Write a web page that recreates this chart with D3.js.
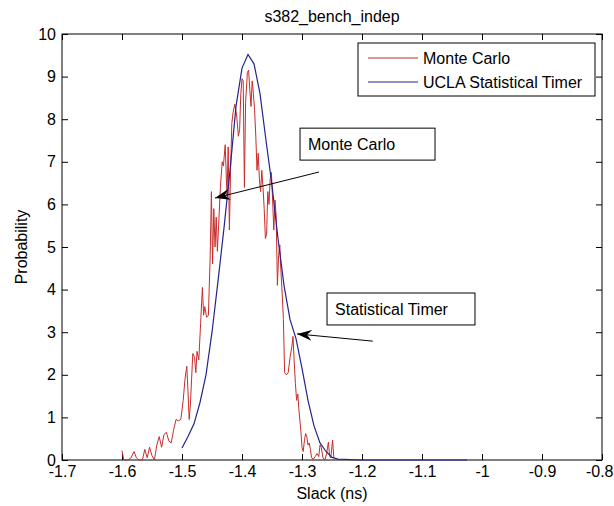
<!DOCTYPE html>
<html>
<head>
<meta charset="utf-8">
<script src="https://cdn.jsdelivr.net/npm/d3@7/dist/d3.min.js"></script>
<style>
  body { margin: 0; background: #fff; }
  text { font-family: "Liberation Sans", Arial, sans-serif; fill: #000; }
</style>
</head>
<body>
<div id="chart"></div>
<script>
const title = 's382_bench_indep'
const xLabel = 'Slack (ns)'
const yLabel = 'Probability'
const xTicks = [-1.7, -1.6, -1.5, -1.4, -1.3, -1.2, -1.1, -1, -0.9, -0.8]
const yTicks = [0, 1, 2, 3, 4, 5, 6, 7, 8, 9, 10]
const seriesNames = ['Monte Carlo', 'UCLA Statistical Timer']

// monte carlo histogram
const mcX = [-1.600, -1.597, -1.590, -1.585, -1.580, -1.576, -1.572, -1.566, -1.562, -1.558,
  -1.554, -1.550, -1.546, -1.542, -1.538, -1.534, -1.530, -1.526, -1.522, -1.518,
  -1.514, -1.510, -1.506, -1.502, -1.498, -1.495, -1.492, -1.490, -1.488, -1.486,
  -1.484, -1.482, -1.479, -1.477, -1.475, -1.472, -1.469, -1.466, -1.464, -1.462,
  -1.459, -1.456, -1.453, -1.451, -1.449, -1.447, -1.445, -1.443, -1.441, -1.439,
  -1.436, -1.433, -1.431, -1.428, -1.425, -1.423, -1.421, -1.419, -1.417, -1.415,
  -1.412, -1.409, -1.406, -1.404, -1.402, -1.400, -1.398, -1.396, -1.394, -1.391,
  -1.389, -1.387, -1.385, -1.383, -1.381, -1.379, -1.377, -1.375, -1.373, -1.371,
  -1.369, -1.367, -1.365, -1.363, -1.361, -1.359, -1.357, -1.355, -1.353, -1.351,
  -1.349, -1.347, -1.345, -1.343, -1.341, -1.339, -1.337, -1.335, -1.333, -1.331,
  -1.329, -1.326, -1.323, -1.320, -1.317, -1.315, -1.313, -1.311, -1.309, -1.307,
  -1.305, -1.302, -1.300, -1.298, -1.296, -1.294, -1.292, -1.290, -1.288, -1.286,
  -1.284, -1.281, -1.278, -1.275, -1.272, -1.270, -1.268, -1.265, -1.262, -1.259,
  -1.256, -1.254, -1.252, -1.249, -1.247]
const mcY = [0.22, 0.00, 0.00, 0.05, 0.20, 0.05, 0.00, 0.00, 0.25, 0.05,
  0.30, 0.10, 0.00, 0.35, 0.55, 0.30, 0.60, 0.65, 0.45, 0.40,
  0.70, 0.95, 0.92, 0.95, 1.40, 1.90, 2.20, 1.60, 0.95, 1.30,
  1.90, 2.50, 2.40, 2.05, 2.55, 2.35, 3.20, 4.05, 3.40, 3.60,
  3.35, 3.40, 4.80, 6.30, 4.60, 5.90, 5.00, 5.70, 4.90, 5.50,
  6.40, 7.00, 6.90, 7.40, 6.20, 7.35, 5.40, 6.80, 7.90, 8.15,
  8.35, 8.10, 7.60, 7.75, 8.60, 8.95, 8.90, 6.40, 8.40, 9.10,
  9.15, 8.70, 8.30, 8.90, 8.60, 8.20, 7.60, 6.80, 7.20, 6.60,
  6.30, 6.80, 6.40, 5.90, 5.20, 5.30, 6.30, 6.00, 6.60, 6.75,
  6.10, 5.40, 6.10, 5.70, 4.10, 4.80, 5.05, 4.40, 3.90, 3.30,
  2.05, 2.00, 2.05, 2.40, 2.65, 2.90, 2.30, 1.80, 1.40, 1.55,
  1.15, 0.70, 0.30, 0.20, 0.45, 0.62, 0.55, 0.35, 0.40, 0.25,
  0.05, 0.02, 0.08, 0.15, 0.08, 0.35, 0.30, 0.05, 0.00, 0.15,
  0.42, 0.10, 0.05, 0.47, 0.05]

// statistical timer curve
const stX = [-1.50, -1.49, -1.48, -1.47, -1.46, -1.45, -1.44, -1.43, -1.42, -1.41,
  -1.40, -1.39, -1.38, -1.37, -1.36, -1.35, -1.34, -1.33, -1.32, -1.31,
  -1.30, -1.29, -1.28, -1.27, -1.26, -1.25, -1.24, -1.20, -1.10, -1.025]
const stY = [0.28, 0.55, 0.85, 1.35, 2.00, 3.00, 4.20, 5.45, 6.80, 8.30,
  9.20, 9.52, 9.30, 8.60, 7.50, 6.45, 5.20, 4.10, 3.30, 2.85,
  2.15, 1.40, 0.80, 0.40, 0.20, 0.06, 0.02, 0, 0, 0]

// text arrows: label box corners, arrow tail, arrow tip (data units)
const notes = [
  { text: 'Monte Carlo', box: [-1.3033, 7.79, -1.0783, 7.04], from: [-1.2717, 6.76], to: [-1.445, 6.15] },
  { text: 'Statistical Timer', box: [-1.2583, 3.92, -1.0117, 3.17], from: [-1.182, 2.79], to: [-1.3083, 2.96] }
]

const colors = ['#c82c2c', '#24248c']

const width = 614, height = 506
const margin = { top: 34, right: 12, bottom: 46, left: 62 }

const svg = d3.select('#chart')
  .append('svg')
  .attr('width', width)
  .attr('height', height)

svg.append('rect').attr('width', width).attr('height', height).attr('fill', '#fff')

const x = d3.scaleLinear().domain([-1.7, -0.8]).range([margin.left, width - margin.right])
const y = d3.scaleLinear().domain([0, 10]).range([height - margin.bottom, margin.top])

const fmt = d => String(+d.toFixed(1))

svg.append('rect')
  .attr('x', x(-1.7)).attr('y', y(10))
  .attr('width', x(-0.8) - x(-1.7)).attr('height', y(0) - y(10))
  .attr('fill', 'none').attr('stroke', '#000')

const styleAxis = g => {
  g.select('.domain').remove()
  g.selectAll('line').attr('stroke', '#000')
  g.selectAll('text').style('font-size', '16px').attr('fill', '#000')
}

const xAxis = svg.append('g')
  .attr('transform', 'translate(0,' + y(0) + ')')
  .call(d3.axisBottom(x).tickValues(xTicks).tickFormat(fmt).tickSizeInner(-6).tickSizeOuter(0).tickPadding(6))
  .call(styleAxis)

// last label sits against the right edge
xAxis.selectAll('.tick text')
  .filter(d => d === xTicks[xTicks.length - 1])
  .attr('text-anchor', 'end')
  .attr('x', 11)

svg.append('g')
  .attr('transform', 'translate(0,' + y(10) + ')')
  .call(d3.axisTop(x).tickValues(xTicks).tickFormat('').tickSizeInner(-6).tickSizeOuter(0))
  .call(styleAxis)

svg.append('g')
  .attr('transform', 'translate(' + x(-1.7) + ',0)')
  .call(d3.axisLeft(y).tickValues(yTicks).tickFormat(fmt).tickSizeInner(-6).tickSizeOuter(0).tickPadding(6))
  .call(styleAxis)

svg.append('g')
  .attr('transform', 'translate(' + x(-0.8) + ',0)')
  .call(d3.axisRight(y).tickValues(yTicks).tickFormat('').tickSizeInner(-6).tickSizeOuter(0))
  .call(styleAxis)

const line = d3.line().x(d => x(d[0])).y(d => y(d[1]))

svg.append('path')
  .datum(d3.zip(mcX, mcY))
  .attr('fill', 'none')
  .attr('stroke', colors[0])
  .attr('stroke-width', 1)
  .attr('d', line)

svg.append('path')
  .datum(d3.zip(stX, stY))
  .attr('fill', 'none')
  .attr('stroke', colors[1])
  .attr('stroke-width', 1.2)
  .attr('d', line)

// title and axis labels
const midX = (x(-1.7) + x(-0.8)) / 2

svg.append('text')
  .attr('x', midX).attr('y', 21.5)
  .attr('text-anchor', 'middle').style('font-size', '16px')
  .text(title)

svg.append('text')
  .attr('x', midX).attr('y', 499)
  .attr('text-anchor', 'middle').style('font-size', '16px')
  .text(xLabel)

svg.append('text')
  .attr('transform', 'translate(27,' + y(5) + ') rotate(-90)')
  .attr('text-anchor', 'middle').style('font-size', '16px')
  .text(yLabel)

// legend
const legend = svg.append('g')
legend.append('rect')
  .attr('x', 358).attr('y', 43).attr('width', 237).attr('height', 53)
  .attr('fill', '#fff').attr('stroke', '#000')

const glegend = legend.selectAll('g.item')
  .data(seriesNames)
  .enter()
  .append('g')
  .attr('class', 'item')
  .attr('transform', (d, i) => 'translate(0,' + (58 + i * 24) + ')')

glegend.append('line')
  .attr('x1', 368).attr('x2', 418)
  .attr('stroke', (d, i) => colors[i])

glegend.append('text')
  .attr('x', 423).attr('dy', '0.35em')
  .style('font-size', '16px')
  .text(d => d)

// annotations
svg.append('defs').append('marker')
  .attr('id', 'head')
  .attr('viewBox', '0 0 15 11')
  .attr('refX', 15).attr('refY', 5.5)
  .attr('markerWidth', 15).attr('markerHeight', 11)
  .attr('markerUnits', 'userSpaceOnUse')
  .attr('orient', 'auto')
  .append('path')
  .attr('d', 'M0,0 L15,5.5 L0,11 L5,5.5 Z')
  .attr('fill', '#000')

const gnotes = svg.selectAll('g.note')
  .data(notes)
  .enter()
  .append('g')
  .attr('class', 'note')

gnotes.append('line')
  .attr('x1', d => x(d.from[0])).attr('y1', d => y(d.from[1]))
  .attr('x2', d => x(d.to[0])).attr('y2', d => y(d.to[1]))
  .attr('stroke', '#000')
  .attr('marker-end', 'url(#head)')

gnotes.append('rect')
  .attr('x', d => x(d.box[0])).attr('y', d => y(d.box[1]))
  .attr('width', d => x(d.box[2]) - x(d.box[0]))
  .attr('height', d => y(d.box[3]) - y(d.box[1]))
  .attr('fill', '#fff').attr('stroke', '#000')

gnotes.append('text')
  .attr('x', d => x(d.box[0]) + 8)
  .attr('y', d => (y(d.box[1]) + y(d.box[3])) / 2)
  .attr('dy', '0.35em')
  .style('font-size', '16px')
  .text(d => d.text)
</script>
</body>
</html>
